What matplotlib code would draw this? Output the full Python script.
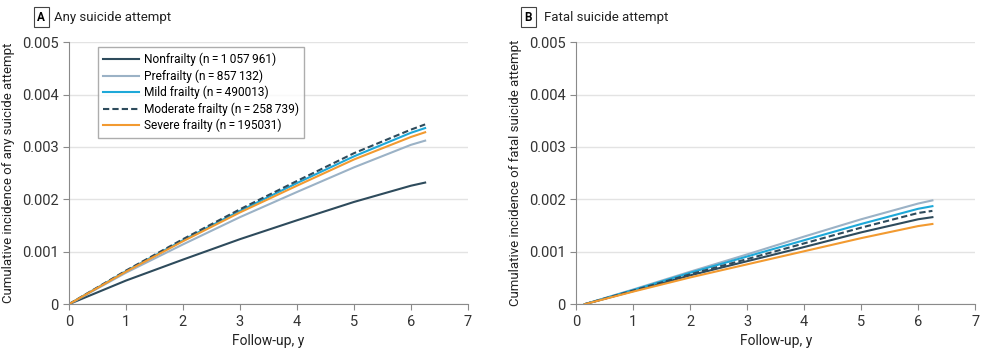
import numpy as np
import matplotlib
matplotlib.use('Agg')
import matplotlib.pyplot as plt

plt.rcParams['font.family'] = ['Roboto', 'DejaVu Sans']
plt.rcParams['font.size'] = 9

# Follow-up years (x) and cumulative incidence readings
years_any = [0, 1, 2, 3, 4, 5, 6, 6.25]
any_nonfrailty = [0, 0.00045, 0.00085, 0.00124, 0.00160, 0.00195, 0.00226, 0.00232]
any_prefrailty = [0, 0.00060, 0.00114, 0.00166, 0.00214, 0.00261, 0.00304, 0.00312]
any_mild = [0, 0.00063, 0.00122, 0.00178, 0.00231, 0.00282, 0.00327, 0.00336]
any_moderate = [0, 0.00064, 0.00124, 0.00181, 0.00235, 0.00288, 0.00333, 0.00343]
any_severe = [0, 0.00062, 0.00120, 0.00175, 0.00226, 0.00276, 0.00319, 0.00328]

years_fatal = [0.15, 1, 2, 3, 4, 5, 6, 6.25]
fatal_nonfrailty = [0, 0.00025, 0.00055, 0.00082, 0.00109, 0.00137, 0.00162, 0.00166]
fatal_prefrailty = [0, 0.00028, 0.00062, 0.00095, 0.00129, 0.00162, 0.00192, 0.00198]
fatal_mild = [0, 0.00027, 0.00060, 0.00091, 0.00122, 0.00153, 0.00182, 0.00187]
fatal_moderate = [0, 0.00026, 0.00057, 0.00086, 0.00116, 0.00146, 0.00174, 0.00178]
fatal_severe = [0, 0.00024, 0.00051, 0.00076, 0.00101, 0.00126, 0.00149, 0.00153]

labels = ["Nonfrailty (n\u2009=\u20091\u2009057\u2009961)",
          "Prefrailty (n\u2009=\u2009857\u2009132)",
          "Mild frailty (n\u2009=\u2009490013)",
          "Moderate frailty (n\u2009=\u2009258\u2009739)",
          "Severe frailty (n\u2009=\u2009195031)"]
colors = ['#2e4b5c', '#9bb2c6', '#1ea8d8', '#2e4b5c', '#f29a30']
styles = ['-', '-', '-', '--', '-']

fig = plt.figure(figsize=(9.85, 3.57), dpi=100)
ax1 = fig.add_axes([0.070, 0.148, 0.405, 0.734])
ax2 = fig.add_axes([0.585, 0.148, 0.405, 0.734])

panels = [
    (ax1, years_any, [any_nonfrailty, any_prefrailty, any_mild, any_moderate, any_severe],
     "A", "Any suicide attempt", "Cumulative incidence of any suicide attempt", -0.07, -0.037),
    (ax2, years_fatal, [fatal_nonfrailty, fatal_prefrailty, fatal_mild, fatal_moderate, fatal_severe],
     "B", "Fatal suicide attempt", "Cumulative incidence of fatal suicide attempt", -0.12, -0.08),
]

for ax, xs, series, letter, title, ylabel, lx, tx in panels:
    for ys, c, ls, lab in zip(series, colors, styles, labels):
        ax.plot(xs, ys, color=c, linestyle=ls, linewidth=1.5, label=lab,
                dashes=(3, 1.5) if ls == '--' else (None, None))
    ax.set_xlim(0, 7)
    ax.set_ylim(0, 0.005)
    ax.set_xticks(range(8))
    ax.set_yticks([0, 0.001, 0.002, 0.003, 0.004, 0.005])
    ax.set_yticklabels(['0', '0.001', '0.002', '0.003', '0.004', '0.005'])
    ax.grid(axis='y', color='#e3e3e3', linewidth=1)
    ax.set_axisbelow(True)
    for s in ['top', 'right']:
        ax.spines[s].set_visible(False)
    for s in ['left', 'bottom']:
        ax.spines[s].set_color('#8a8a8a')
    ax.tick_params(colors='#8a8a8a', labelcolor='#333333', length=4, labelsize=10.5)
    ax.set_xlabel("Follow-up, y", fontsize=10, color='#222222')
    ax.set_ylabel(ylabel, fontsize=9.5, color='#222222', labelpad=5)
    ax.text(lx, 1.095, letter, transform=ax.transAxes, fontsize=8.5, fontweight='bold',
            ha='center', va='center',
            bbox=dict(boxstyle='square,pad=0.3', facecolor='white', edgecolor='#444444', linewidth=0.8))
    ax.text(tx, 1.095, title, transform=ax.transAxes, fontsize=9.5, ha='left', va='center',
            color='#222222')

leg = ax1.legend(loc='upper left', bbox_to_anchor=(0.073, 0.98), borderaxespad=0, fontsize=8.6,
                 frameon=True, fancybox=False, handlelength=3.0, borderpad=0.45,
                 labelspacing=0.26, handletextpad=0.4)
leg.get_frame().set_edgecolor('#999999')
leg.get_frame().set_linewidth(1)

fig.savefig('out.png', dpi=100)
